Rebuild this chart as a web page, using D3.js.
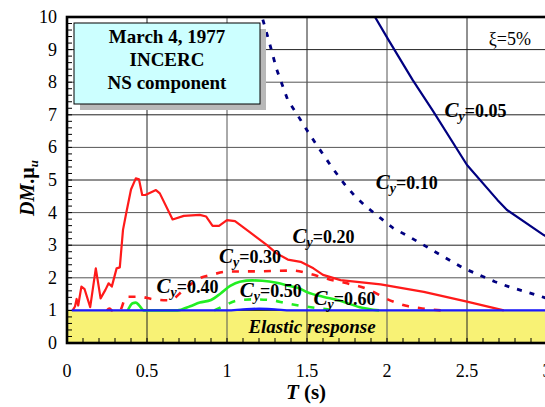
<!DOCTYPE html>
<html>
<head>
<meta charset="utf-8">
<script src="https://cdn.jsdelivr.net/npm/d3@7.9.0/dist/d3.min.js"></script>
</head>
<body style="margin:0;background:#fff">
<svg id="chart" width="545" height="407" font-family="Liberation Serif"></svg>
<script>
// values: [T (s), DM.mu_u]
const cy005 = [[1.90,10.4],[1.925,10.0],[2.01,9.29],[2.16,8.07],[2.29,7.10],[2.50,5.46],[2.69,4.39],[2.75,4.08],[2.98,3.31],[3.0,3.26]];
const cy010 = [[1.20,10.3],[1.225,9.9],[1.26,9.3],[1.31,8.4],[1.38,7.45],[1.44,7.0],[1.49,6.6],[1.55,6.15],[1.66,5.36],[1.73,4.9],[1.80,4.5],[1.87,4.18],[1.96,3.83],[2.04,3.52],[2.12,3.31],[2.21,3.06],[2.30,2.8],[2.48,2.29],[2.675,1.88],[2.77,1.71],[2.87,1.57],[3.0,1.37]];
const cy020 = [[0.035,1.0],[0.05,1.12],[0.06,1.35],[0.07,1.15],[0.09,1.73],[0.11,1.65],[0.145,1.1],[0.18,2.29],[0.21,1.37],[0.24,1.63],[0.26,1.83],[0.28,1.73],[0.31,2.29],[0.33,2.32],[0.35,3.47],[0.37,3.98],[0.40,4.71],[0.43,5.05],[0.45,5.02],[0.47,4.54],[0.49,4.54],[0.556,4.69],[0.58,4.59],[0.66,3.79],[0.73,3.90],[0.83,3.93],[0.87,3.88],[0.91,3.59],[0.95,3.59],[1.0,3.77],[1.05,3.74],[1.14,3.41],[1.25,3.0],[1.31,2.75],[1.38,2.56],[1.46,2.49],[1.54,2.29],[1.60,2.09],[1.71,1.93],[1.96,1.80],[2.23,1.57],[2.50,1.27],[2.73,1.0]];
const cy030 = [[0.25,1.0],[0.265,1.06],[0.28,1.0],[0.33,1.0],[0.37,1.42],[0.45,1.42],[0.54,1.34],[0.64,1.31],[0.73,1.63],[0.83,1.99],[0.91,2.10],[1.0,2.19],[1.2,2.20],[1.41,2.22],[1.52,2.12],[1.64,1.95],[1.75,1.83],[1.89,1.63],[2.0,1.35],[2.12,1.14],[2.22,1.06],[2.34,1.0]];
const cy040 = [[0.38,1.0],[0.41,1.22],[0.43,1.24],[0.45,1.16],[0.48,1.0],[0.69,1.0],[0.77,1.13],[0.83,1.24],[0.90,1.32],[0.96,1.52],[1.02,1.75],[1.08,1.88],[1.16,1.92],[1.22,1.91],[1.31,1.85],[1.39,1.75],[1.46,1.66],[1.50,1.56],[1.60,1.42],[1.69,1.32],[1.83,1.10],[1.95,1.0]];
const cy050 = [[0.92,1.0],[0.97,1.11],[1.06,1.30],[1.16,1.34],[1.27,1.32],[1.37,1.22],[1.475,1.13],[1.64,1.03],[1.70,1.0]];
const cy060 = [[0.03,1.0],[1.0,1.0],[1.1,1.03],[1.2,1.05],[1.3,1.03],[1.4,1.0],[3.0,1.0]];

const xTicks = [0, 0.5, 1, 1.5, 2, 2.5, 3];
const yTicks = [0, 1, 2, 3, 4, 5, 6, 7, 8, 9, 10];
const boxLines = ['March 4, 1977', 'INCERC', 'NS component'];

// curve labels: text value, anchor T, anchor DM
const labels = [
  { v: '0.05', t: 2.36, d: 6.93 },
  { v: '0.10', t: 1.93, d: 4.73 },
  { v: '0.20', t: 1.41, d: 3.07 },
  { v: '0.30', t: 0.95, d: 2.45 },
  { v: '0.40', t: 0.56, d: 1.53 },
  { v: '0.50', t: 1.08, d: 1.40 },
  { v: '0.60', t: 1.54, d: 1.17 }
];

const svg = d3.select('#chart');
const m = { left: 67, top: 17 };
const W = 480, H = 326;

const x = d3.scaleLinear().domain([0, 3]).range([m.left, m.left + W]);
const y = d3.scaleLinear().domain([0, 10]).range([m.top + H, m.top]);

svg.append('defs').append('clipPath').attr('id', 'plot')
  .append('rect').attr('x', x(0)).attr('y', y(10)).attr('width', W).attr('height', H);

// elastic band
svg.append('rect')
  .attr('x', x(0)).attr('y', y(1))
  .attr('width', W).attr('height', y(0) - y(1))
  .attr('fill', '#f8f275');

// grid
svg.append('g').selectAll('line').data(xTicks.slice(1)).join('line')
  .attr('x1', d => x(d)).attr('x2', d => x(d))
  .attr('y1', y(0)).attr('y2', y(10))
  .attr('stroke', (d, i) => i % 2 ? '#555' : '#222').attr('stroke-width', 1);
svg.append('g').selectAll('line').data(yTicks.slice(1)).join('line')
  .attr('x1', x(0)).attr('x2', x(3))
  .attr('y1', d => y(d)).attr('y2', d => y(d))
  .attr('stroke', (d, i) => i % 2 ? '#555' : '#222').attr('stroke-width', 1);

// minor ticks inside the frame
svg.append('g').selectAll('line').data(d3.range(0, 10.01, 0.2)).join('line')
  .attr('x1', x(0)).attr('x2', x(0) + 5)
  .attr('y1', d => y(d)).attr('y2', d => y(d))
  .attr('stroke', '#000');
svg.append('g').selectAll('line').data(d3.range(0, 3.01, 0.1)).join('line')
  .attr('x1', d => x(d)).attr('x2', d => x(d))
  .attr('y1', y(0)).attr('y2', y(0) - 5)
  .attr('stroke', '#000');

// series
const line = d3.line().x(d => x(d[0])).y(d => y(d[1]));
const smooth = d3.line().x(d => x(d[0])).y(d => y(d[1])).curve(d3.curveMonotoneX);
const series = [
  { data: cy030, color: '#ff1a1a', w: 2.6, dash: '7,9', gen: smooth },
  { data: cy050, color: '#22ee22', w: 2.6, dash: '7,9', gen: smooth },
  { data: cy040, color: '#22ee22', w: 2.6, dash: null, gen: smooth },
  { data: cy020, color: '#ff1a1a', w: 2.2, dash: null, gen: line },
  { data: cy010, color: '#000080', w: 2.8, dash: '5,8', gen: line },
  { data: cy005, color: '#000080', w: 2.2, dash: null, gen: line },
  { data: cy060, color: '#1a1aff', w: 2.4, dash: null, gen: smooth }
];
const gs = svg.append('g').attr('clip-path', 'url(#plot)');
gs.selectAll('path').data(series).join('path')
  .attr('d', d => d.gen(d.data))
  .attr('fill', 'none')
  .attr('stroke', d => d.color)
  .attr('stroke-width', d => d.w)
  .attr('stroke-dasharray', d => d.dash)
  .attr('stroke-linejoin', 'round');

// frame
svg.append('rect')
  .attr('x', x(0)).attr('y', y(10)).attr('width', W).attr('height', H)
  .attr('fill', 'none').attr('stroke', '#000').attr('stroke-width', 2.6);

// tick labels
svg.selectAll('text.yt').data(yTicks).join('text')
  .attr('class', 'yt')
  .attr('x', x(0) - 10).attr('y', d => y(d) + 6)
  .attr('text-anchor', 'end').attr('font-size', 18)
  .text(d => d);
svg.selectAll('text.xt').data(xTicks).join('text')
  .attr('class', 'xt')
  .attr('x', d => x(d)).attr('y', 377)
  .attr('text-anchor', 'middle').attr('font-size', 18)
  .text(d => d);

// axis titles
const xt = svg.append('text').attr('x', 306).attr('y', 399)
  .attr('text-anchor', 'middle').attr('font-size', 21).attr('font-weight', 'bold');
xt.append('tspan').attr('font-style', 'italic').text('T');
xt.append('tspan').text(' (s)');

const yt = svg.append('text')
  .attr('transform', 'translate(34,188) rotate(-90)')
  .attr('text-anchor', 'middle').attr('font-size', 20).attr('font-weight', 'bold');
yt.append('tspan').attr('font-style', 'italic').text('DM');
yt.append('tspan').text('.μ');
yt.append('tspan').attr('font-style', 'italic').attr('font-size', 13).attr('dy', 4).text('u');

// curve labels
labels.forEach(l => {
  const t = svg.append('text').attr('x', x(l.t)).attr('y', y(l.d))
    .attr('font-weight', 'bold').attr('font-size', 18);
  t.append('tspan').attr('font-style', 'italic').attr('font-size', 21).text('C');
  t.append('tspan').attr('font-style', 'italic').attr('font-size', 14).attr('dy', 4).text('y');
  t.append('tspan').attr('dy', -4).text('=' + l.v);
});

// elastic response
svg.append('text').attr('x', 312).attr('y', 333)
  .attr('text-anchor', 'middle').attr('font-size', 19)
  .attr('font-weight', 'bold').attr('font-style', 'italic')
  .text('Elastic response');

// damping
svg.append('text').attr('x', 531).attr('y', 45)
  .attr('text-anchor', 'end').attr('font-size', 18)
  .text('ξ=5%');

// info box
const bx = 74, by = 23, bw = 186, bh = 81;
svg.append('rect').attr('x', bx + 6).attr('y', by + 6).attr('width', bw).attr('height', bh).attr('fill', '#b8b8b8');
svg.append('rect').attr('x', bx).attr('y', by).attr('width', bw).attr('height', bh)
  .attr('fill', '#ccffff').attr('stroke', '#000').attr('stroke-width', 1);
svg.selectAll('text.box').data(boxLines).join('text')
  .attr('class', 'box')
  .attr('x', bx + bw / 2).attr('y', (d, i) => by + 20 + i * 23)
  .attr('text-anchor', 'middle').attr('font-size', 19).attr('font-weight', 'bold')
  .text(d => d);

svg.selectAll('text, tspan')
  .attr('font-family', 'Liberation Serif')
  .style('font-family', '"Liberation Serif"');
</script>
</body>
</html>
